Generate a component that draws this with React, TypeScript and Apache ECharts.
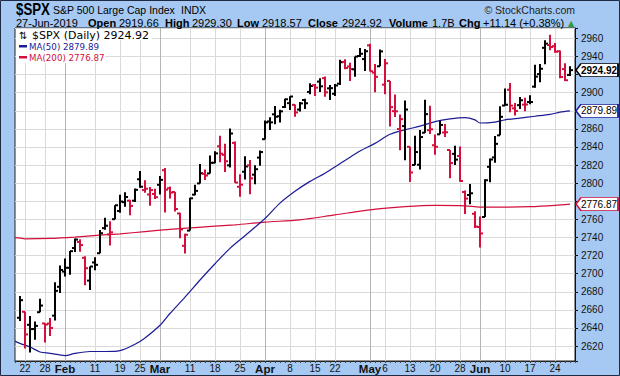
import React, { useEffect, useRef } from "react";
import * as echarts from "echarts";

// ---------- data ----------
const dates = [
  "01-18", "01-22", "01-23", "01-24", "01-25", "01-28", "01-29", "01-30", "01-31",
  "02-01", "02-04", "02-05", "02-06", "02-07", "02-08", "02-11", "02-12", "02-13", "02-14", "02-15", "02-19", "02-20", "02-21", "02-22", "02-25", "02-26", "02-27", "02-28",
  "03-01", "03-04", "03-05", "03-06", "03-07", "03-08", "03-11", "03-12", "03-13", "03-14", "03-15", "03-18", "03-19", "03-20", "03-21", "03-22", "03-25", "03-26", "03-27", "03-28", "03-29",
  "04-01", "04-02", "04-03", "04-04", "04-05", "04-08", "04-09", "04-10", "04-11", "04-12", "04-15", "04-16", "04-17", "04-18", "04-22", "04-23", "04-24", "04-25", "04-26", "04-29", "04-30",
  "05-01", "05-02", "05-03", "05-06", "05-07", "05-08", "05-09", "05-10", "05-13", "05-14", "05-15", "05-16", "05-17", "05-20", "05-21", "05-22", "05-23", "05-24", "05-28", "05-29", "05-30", "05-31",
  "06-03", "06-04", "06-05", "06-06", "06-07", "06-10", "06-11", "06-12", "06-13", "06-14", "06-17", "06-18", "06-19", "06-20", "06-21", "06-24", "06-25", "06-26", "06-27",
];

const opens = [
  2651.27, 2657.88, 2643.48, 2638.84, 2657.44, 2644.97, 2644.89, 2653.62, 2685.49,
  2702.32, 2706.49, 2728.34, 2735.05, 2717.53, 2692.36, 2712.4, 2722.61, 2750.3, 2743.5, 2760.24, 2769.28, 2779.05, 2780.67, 2780.67, 2804.35, 2792.36, 2787.5, 2788.11,
  2798.22, 2814.37, 2794.41, 2790.27, 2766.53, 2730.79, 2747.61, 2787.34, 2799.78, 2810.38, 2810.79, 2822.61, 2840.76, 2831.34, 2819.72, 2844.52, 2796.01, 2812.66, 2819.72, 2809.4, 2828.27,
  2848.63, 2868.24, 2876.09, 2873.99, 2884.16, 2888.46, 2886.58, 2881.37, 2891.92, 2900.86, 2908.32, 2912.26, 2916.04, 2904.81, 2898.78, 2909.99, 2934.0, 2928.99, 2925.81, 2940.58, 2937.14,
  2952.33, 2922.16, 2929.21, 2908.89, 2913.03, 2879.61, 2859.84, 2863.1, 2840.19, 2820.12, 2820.38, 2855.8, 2858.6, 2841.94, 2854.02, 2856.06, 2836.7, 2832.41, 2830.03, 2790.25, 2786.94, 2766.15,
  2751.53, 2762.64, 2818.09, 2828.51, 2852.87, 2885.83, 2903.27, 2882.73, 2886.24, 2886.82, 2889.75, 2906.71, 2920.55, 2949.6, 2952.71, 2951.42, 2945.78, 2926.07, 2919.66,
];

const highs = [
  2675.47, 2657.88, 2653.19, 2647.2, 2672.38, 2644.97, 2650.93, 2690.44, 2708.95,
  2716.66, 2724.99, 2738.98, 2738.08, 2719.32, 2708.07, 2718.05, 2748.19, 2761.85, 2757.9, 2775.66, 2787.33, 2789.88, 2781.58, 2794.2, 2813.49, 2803.12, 2795.76, 2793.73,
  2808.02, 2816.88, 2796.44, 2790.27, 2767.25, 2744.13, 2784.0, 2798.32, 2821.24, 2815.0, 2830.73, 2835.41, 2852.42, 2843.54, 2860.31, 2846.16, 2809.79, 2829.87, 2825.56, 2819.71, 2836.03,
  2869.4, 2872.9, 2885.25, 2881.28, 2893.24, 2895.95, 2886.88, 2889.71, 2893.42, 2910.54, 2909.6, 2916.06, 2918.0, 2908.4, 2909.51, 2936.31, 2936.83, 2933.1, 2939.88, 2949.52, 2948.22,
  2954.13, 2931.68, 2947.85, 2937.32, 2913.03, 2897.96, 2875.97, 2891.31, 2840.19, 2852.54, 2858.68, 2892.15, 2885.48, 2853.86, 2868.88, 2865.47, 2836.7, 2841.36, 2840.51, 2792.03, 2799.0, 2768.98,
  2763.07, 2804.49, 2827.28, 2852.1, 2884.97, 2904.77, 2910.61, 2888.57, 2895.24, 2894.45, 2897.27, 2930.79, 2931.74, 2958.06, 2964.15, 2954.92, 2946.52, 2932.59, 2929.3,
];

const lows = [
  2647.58, 2617.27, 2612.86, 2627.01, 2657.33, 2624.06, 2631.05, 2648.34, 2678.65,
  2696.88, 2698.75, 2724.03, 2724.15, 2687.26, 2681.83, 2703.79, 2722.61, 2748.63, 2731.23, 2760.24, 2767.29, 2774.06, 2764.55, 2779.11, 2794.99, 2789.47, 2775.13, 2782.51,
  2787.38, 2767.66, 2782.97, 2768.69, 2739.09, 2722.27, 2747.61, 2786.73, 2799.78, 2803.46, 2810.79, 2821.99, 2823.27, 2812.43, 2817.38, 2800.47, 2785.02, 2803.99, 2787.72, 2798.77, 2819.23,
  2848.63, 2858.75, 2865.17, 2867.14, 2882.99, 2880.78, 2873.33, 2879.13, 2881.99, 2898.37, 2896.48, 2900.71, 2895.45, 2891.9, 2896.35, 2908.53, 2926.05, 2912.84, 2917.56, 2939.35, 2924.11,
  2923.36, 2900.5, 2929.21, 2898.21, 2862.6, 2873.28, 2836.4, 2825.39, 2801.43, 2820.12, 2815.08, 2855.8, 2854.23, 2831.29, 2854.02, 2851.11, 2805.49, 2820.19, 2801.58, 2766.06, 2776.74, 2750.52,
  2728.81, 2762.64, 2800.92, 2822.45, 2852.87, 2885.51, 2878.53, 2874.68, 2881.99, 2879.62, 2887.3, 2905.44, 2911.43, 2931.5, 2946.87, 2944.05, 2916.01, 2912.99, 2918.57,
];

const closes = [
  2670.71, 2632.9, 2638.7, 2642.33, 2664.76, 2643.85, 2640.0, 2681.05, 2704.1,
  2706.53, 2724.87, 2737.7, 2731.61, 2706.05, 2707.88, 2709.8, 2744.73, 2753.03, 2745.73, 2775.6, 2779.76, 2784.7, 2774.88, 2792.67, 2796.11, 2793.9, 2792.38, 2784.49,
  2803.69, 2792.81, 2789.65, 2771.45, 2748.93, 2743.07, 2783.3, 2791.52, 2810.92, 2808.48, 2822.48, 2832.94, 2832.57, 2824.23, 2854.88, 2800.71, 2798.36, 2818.46, 2805.37, 2815.44, 2834.4,
  2867.19, 2867.24, 2873.4, 2879.39, 2892.74, 2895.77, 2878.2, 2888.21, 2888.32, 2907.41, 2905.58, 2907.06, 2900.45, 2905.03, 2907.97, 2933.68, 2927.25, 2926.17, 2939.88, 2943.03, 2945.83,
  2923.73, 2917.52, 2945.64, 2932.47, 2884.05, 2879.42, 2870.72, 2881.4, 2811.87, 2834.41, 2850.96, 2876.32, 2859.53, 2840.23, 2864.36, 2856.27, 2822.24, 2826.06, 2802.39, 2783.02, 2788.86, 2752.06,
  2744.45, 2803.27, 2826.15, 2843.49, 2873.34, 2886.73, 2885.72, 2879.84, 2891.64, 2886.98, 2889.67, 2917.75, 2926.46, 2954.18, 2950.46, 2945.35, 2917.38, 2913.78, 2924.92,
];

const priorClose = 2635.96;

const ma50Dates = [
  "start", "01-18", "01-23", "01-25", "01-29", "02-01", "02-05", "02-08", "02-13", "02-19", "02-22", "02-26",
  "03-01", "03-05", "03-08", "03-13", "03-18", "03-21", "03-26", "04-01", "04-04", "04-09", "04-12", "04-17",
  "04-24", "04-29", "05-02", "05-07", "05-10", "05-15", "05-20", "05-23", "05-29", "05-31", "06-03", "06-06",
  "06-10", "06-13", "06-18", "06-21", "06-25", "06-27",
];
const ma50Values = [
  2625.5, 2623, 2619, 2613.5, 2612, 2609.5, 2612, 2614, 2614, 2615, 2622, 2629,
  2643, 2656, 2674, 2693, 2711, 2728, 2742, 2761, 2778, 2791, 2802, 2811,
  2825, 2835.5, 2844, 2854, 2859, 2863, 2868, 2871, 2872.5, 2870, 2866.5, 2867.5,
  2870, 2872, 2874, 2876, 2878.5, 2879.89,
];

const ma200Dates = [
  "start", "01-18", "01-22", "01-29", "02-05", "02-12", "02-19", "02-26", "03-05", "03-12", "03-22", "04-01",
  "04-10", "04-22", "05-01", "05-10", "05-20", "05-29", "06-03", "06-10", "06-17", "06-24", "06-27",
];
const ma200Values = [
  2739.8, 2739.3, 2738.5, 2739, 2740.5, 2742.5, 2744, 2746.5, 2749, 2751, 2754, 2757,
  2759.5, 2765, 2770.5, 2774, 2775.5, 2775, 2773.5, 2773.5, 2774, 2775.5, 2776.87,
];

const tickDates = [
  "01-22", "01-28", "02-01", "02-11", "02-19", "02-25", "03-01", "03-11", "03-18", "03-25", "04-01", "04-08",
  "04-15", "04-22", "05-01", "05-06", "05-13", "05-20", "05-28", "06-03", "06-10", "06-17", "06-24",
];
const tickTexts = [
  "22", "28", "Feb", "11", "19", "25", "Mar", "11", "18", "25", "Apr", "8",
  "15", "22", "May", "6", "13", "20", "28", "Jun", "10", "17", "24",
];
const monthDates = ["02-01", "03-01", "04-01", "05-01", "06-03"];

// ---------- styling ----------
const SANS = '"Liberation Sans", Arial, sans-serif';
const DJV = '"DejaVu Sans", Verdana, sans-serif';
const RED = "#d40f3c";
const NAVY = "#1c1c96";
const FRAME = "#a5c9f3";

function buildOption() {
  const categories = ["start", ...dates, "end"];
  const labelOf: Record<string, string> = {};
  tickDates.forEach((d, i) => (labelOf[d] = tickTexts[i]));
  const monthSet = new Set(monthDates);

  const ohlc = dates.map((d, i) => {
    const prev = i === 0 ? priorClose : closes[i - 1];
    return [d, opens[i], highs[i], lows[i], closes[i], closes[i] < prev ? 1 : 0];
  });
  const last = closes[closes.length - 1];
  const lastMa50 = ma50Values[ma50Values.length - 1];
  const lastMa200 = ma200Values[ma200Values.length - 1];
  const tagValues = [last, lastMa50, lastMa200];

  const tagSymbol = "path://M0,6L5,0L42,0L42,12L5,12Z";

  const T = (t: string, x: number, y: number, font: string, extra: any = {}) => ({
    type: "text",
    z: 11,
    x,
    y,
    silent: true,
    ...extra,
    style: {
      text: t,
      font,
      fill: extra.fill ?? "#000",
      align: extra.align ?? "left",
      verticalAlign: "middle",
      textAlign: extra.align ?? "left",
      textVerticalAlign: "middle",
    },
  });

  const graphic: any[] = [
    {
      type: "rect",
      z: 100,
      silent: true,
      shape: { x: 0.5, y: 0.5, width: 619, height: 375 },
      style: { fill: "none", stroke: "#1f2b45", lineWidth: 1 },
    },
    { type: "rect", z: 10, silent: true, shape: { x: 16, y: 29, width: 136, height: 11 }, style: { fill: "#fff" } },
    { type: "rect", z: 10, silent: true, shape: { x: 16, y: 40, width: 89, height: 23 }, style: { fill: "#fff" } },
    T("⇅", 19, 35, `10px ${DJV}`),
    T("$SPX (Daily) 2924.92", 32, 35, `11px ${DJV}`),
    { type: "rect", z: 11, silent: true, shape: { x: 19, y: 45, width: 8, height: 2.5 }, style: { fill: NAVY } },
    T("MA(50) 2879.89", 29, 46.5, `8.7px ${DJV}`, { fill: NAVY }),
    { type: "rect", z: 11, silent: true, shape: { x: 19, y: 56, width: 8, height: 2.5 }, style: { fill: RED } },
    T("MA(200) 2776.87", 29, 57.5, `8.7px ${DJV}`, { fill: RED }),
    // header line 1
    T("$SPX", 16, 10, `bold 16px ${SANS}`, { scaleX: 0.83 }),
    T("S&P 500 Large Cap Index", 53, 10, `10.5px ${SANS}`),
    T("INDX", 181, 10, `10.5px ${SANS}`),
    T("© StockCharts.com", 575, 10, `10.5px ${SANS}`, { align: "right", fill: "#222" }),
    // header line 2
    T("27-Jun-2019", 16, 23, `11px ${SANS}`),
    T("Open", 88, 23, `bold 11px ${SANS}`),
    T("2919.66", 119, 23, `11px ${SANS}`),
    T("High", 165, 23, `bold 11px ${SANS}`),
    T("2929.30", 192, 23, `11px ${SANS}`),
    T("Low", 237, 23, `bold 11px ${SANS}`),
    T("2918.57", 262, 23, `11px ${SANS}`),
    T("Close", 308, 23, `bold 11px ${SANS}`),
    T("2924.92", 342, 23, `11px ${SANS}`),
    T("Volume", 389, 23, `bold 11px ${SANS}`),
    T("1.7B", 432, 23, `11px ${SANS}`),
    T("Chg", 459, 23, `bold 11px ${SANS}`),
    T("+11.14 (+0.38%)", 483, 23, `11px ${SANS}`),
    T("▲", 568, 23, `8px ${DJV}`, { fill: "#2e9a3a" }),
  ];

  return {
    animation: false,
    backgroundColor: FRAME,
    graphic,
    grid: {
      left: 15,
      top: 28,
      width: 560,
      height: 333,
      show: true,
      backgroundColor: "#fff",
      borderColor: "#222",
      borderWidth: 1,
    },
    xAxis: [
      {
        type: "category",
        data: categories,
        boundaryGap: false,
        position: "bottom",
        axisLine: { show: true, lineStyle: { color: "#222" } },
        axisTick: { show: true, interval: 0, length: 2, lineStyle: { color: "#444" } },
        axisLabel: {
          show: true,
          interval: (_i: number, v: string) => v in labelOf,
          formatter: (v: string) => (monthSet.has(v) ? `{m|${labelOf[v]}}` : labelOf[v] ?? ""),
          color: "#111",
          fontSize: 10,
          fontFamily: SANS,
          margin: 2,
          rich: { m: { fontWeight: "bold", fontSize: 11.5, fontFamily: SANS, color: "#111" } },
        },
        splitLine: {
          show: true,
          interval: (_i: number, v: string) => v in labelOf && !monthSet.has(v),
          lineStyle: { color: "#dadada", width: 1 },
        },
      },
      {
        type: "category",
        data: categories,
        boundaryGap: false,
        position: "bottom",
        axisLine: { show: false },
        axisTick: { show: false },
        axisLabel: { show: false },
        splitLine: {
          show: true,
          interval: (_i: number, v: string) => monthSet.has(v),
          lineStyle: { color: "#b4b4b4", width: 1 },
        },
      },
    ],
    yAxis: {
      type: "value",
      position: "right",
      min: 2603.5,
      max: 2971.5,
      minInterval: 20,
      maxInterval: 20,
      splitNumber: 18,
      axisLine: { show: true, lineStyle: { color: "#111" } },
      axisTick: { show: true, length: 3, lineStyle: { color: "#111" } },
      axisLabel: {
        color: "#111",
        fontSize: 10,
        fontFamily: SANS,
        margin: 6,
        formatter: (v: number) => {
          if (Math.abs(v % 20) > 1e-6) return "";
          // labels hidden behind the value tags, as in the reference
          if (tagValues.some((t) => Math.abs(t - v) < 8)) return "";
          return String(v);
        },
      },
      splitLine: { show: true, lineStyle: { color: "#dadada" } },
    },
    series: [
      {
        type: "line",
        name: "MA(200)",
        data: ma200Dates.map((d, i) => [d, ma200Values[i]]),
        symbol: "none",
        smooth: 0.3,
        connectNulls: true,
        clip: false,
        z: 2,
        lineStyle: { color: RED, width: 1.2 },
      },
      {
        type: "line",
        name: "MA(50)",
        data: ma50Dates.map((d, i) => [d, ma50Values[i]]),
        symbol: "none",
        smooth: 0.3,
        connectNulls: true,
        clip: false,
        z: 2,
        lineStyle: { color: NAVY, width: 1.2 },
        markPoint: {
          symbol: tagSymbol,
          symbolSize: [42, 13],
          symbolOffset: [22, 0],
          symbolKeepAspect: false,
          silent: true,
          animation: false,
          label: {
            show: true,
            position: "inside",
            offset: [2, 0],
            color: "#000",
            fontSize: 10,
            fontFamily: SANS,
            formatter: (p: any) => Number(p.value).toFixed(2),
          },
          data: [
            {
              name: "close",
              coord: ["end", last],
              value: last,
              itemStyle: { color: "#fff", borderColor: "#000", borderWidth: 1 },
              label: { fontWeight: "bold" },
            },
            {
              name: "ma50",
              coord: ["end", lastMa50],
              value: lastMa50,
              itemStyle: { color: "#fff", borderColor: NAVY, borderWidth: 1 },
            },
            {
              name: "ma200",
              coord: ["end", lastMa200],
              value: lastMa200,
              itemStyle: { color: "#fff", borderColor: RED, borderWidth: 1 },
            },
          ],
        },
      },
      {
        type: "custom",
        name: "$SPX",
        z: 3,
        data: ohlc,
        encode: { x: 0, y: [1, 2, 3, 4] },
        renderItem: (_params: any, api: any) => {
          const x = api.value(0);
          const o = api.coord([x, api.value(1)]);
          const h = api.coord([x, api.value(2)]);
          const l = api.coord([x, api.value(3)]);
          const c = api.coord([x, api.value(4)]);
          const color = api.value(5) ? RED : "#000";
          return {
            type: "group",
            children: [
              { type: "rect", shape: { x: h[0] - 1, y: h[1], width: 2, height: Math.max(l[1] - h[1], 1) }, style: { fill: color } },
              { type: "rect", shape: { x: o[0] - 3, y: o[1] - 1, width: 3, height: 2 }, style: { fill: color } },
              { type: "rect", shape: { x: c[0], y: c[1] - 1, width: 3, height: 2 }, style: { fill: color } },
            ],
          };
        },
      },
    ],
  };
}

export default function App() {
  const ref = useRef<HTMLDivElement>(null);
  useEffect(() => {
    if (!ref.current) return;
    const chart = echarts.init(ref.current, null, { renderer: "svg" });
    chart.setOption(buildOption() as any);
    return () => chart.dispose();
  }, []);
  return (
    <div
      ref={ref}
      style={{ position: "fixed", left: 0, top: 0, width: 620, height: 376 }}
    />
  );
}
